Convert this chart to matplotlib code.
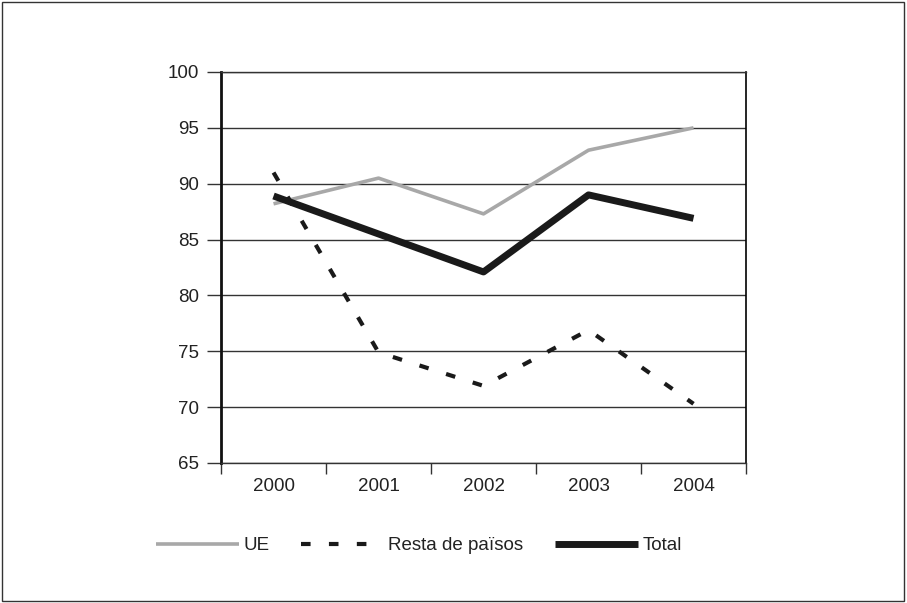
import matplotlib
matplotlib.use('Agg')
from matplotlib import pyplot as plt
from matplotlib.patches import Rectangle

anios = ['2000', '2001', '2002', '2003', '2004']
valores_ue = [88.2, 90.5, 87.3, 93.0, 95.0]
valores_resta = [91.0, 74.9, 71.9, 76.9, 70.3]
valores_total = [88.9, 85.5, 82.1, 89.0, 86.9]
ticks_y = [65, 70, 75, 80, 85, 90, 95, 100]

plt.rcParams['font.family'] = ['Liberation Sans', 'DejaVu Sans']

fig = plt.figure(figsize=(9.07, 6.03), dpi=100)
ax = fig.add_axes([0.2437, 0.2322, 0.5788, 0.6484])

x = list(range(len(anios)))
ax.plot(x, valores_ue, color='#a8a8a8', lw=2.6, label='UE', solid_capstyle='butt')
ax.plot(x, valores_resta, color='#1a1a1a', lw=3.0, dashes=(2.3, 4.4), label='Resta de països')
ax.plot(x, valores_total, color='#1a1a1a', lw=5.0, label='Total', solid_capstyle='butt')

ax.set_xlim(-0.5, len(anios) - 0.5)
ax.set_ylim(65, 100)
ax.set_yticks(ticks_y)
ax.set_yticklabels([str(t) for t in ticks_y], fontsize=13.5, color='#222222')
ax.yaxis.grid(True, color='#333333', lw=1.0)
ax.set_axisbelow(True)

ax.set_xticks(x)
ax.set_xticklabels(anios, fontsize=13.5, color='#222222')
ax.set_xticks([i - 0.5 for i in range(len(anios) + 1)], minor=True)
ax.tick_params(axis='x', which='major', length=0, pad=11)
ax.tick_params(axis='x', which='minor', length=8, width=1.0, color='#333333')
ax.tick_params(axis='y', length=10, width=1.0, color='#333333', pad=6)

ax.spines['left'].set_linewidth(2.0)
ax.spines['left'].set_color('#111111')
ax.spines['right'].set_linewidth(1.2)
ax.spines['bottom'].set_linewidth(1.0)
ax.spines['bottom'].set_color('#333333')
ax.spines['top'].set_linewidth(1.0)
ax.spines['top'].set_color('#333333')

leg = fig.legend(loc='center', bbox_to_anchor=(0.462, 0.095), ncol=3, frameon=False,
                 fontsize=13.5, handlelength=4.4, columnspacing=1.7, handletextpad=0.25)
for t in leg.get_texts():
    t.set_color('#222222')

fig.patches.append(Rectangle((0.002, 0.003), 0.995, 0.994, transform=fig.transFigure,
                             fill=False, edgecolor='#333333', lw=1.0))

plt.savefig('out.png', dpi=100)
